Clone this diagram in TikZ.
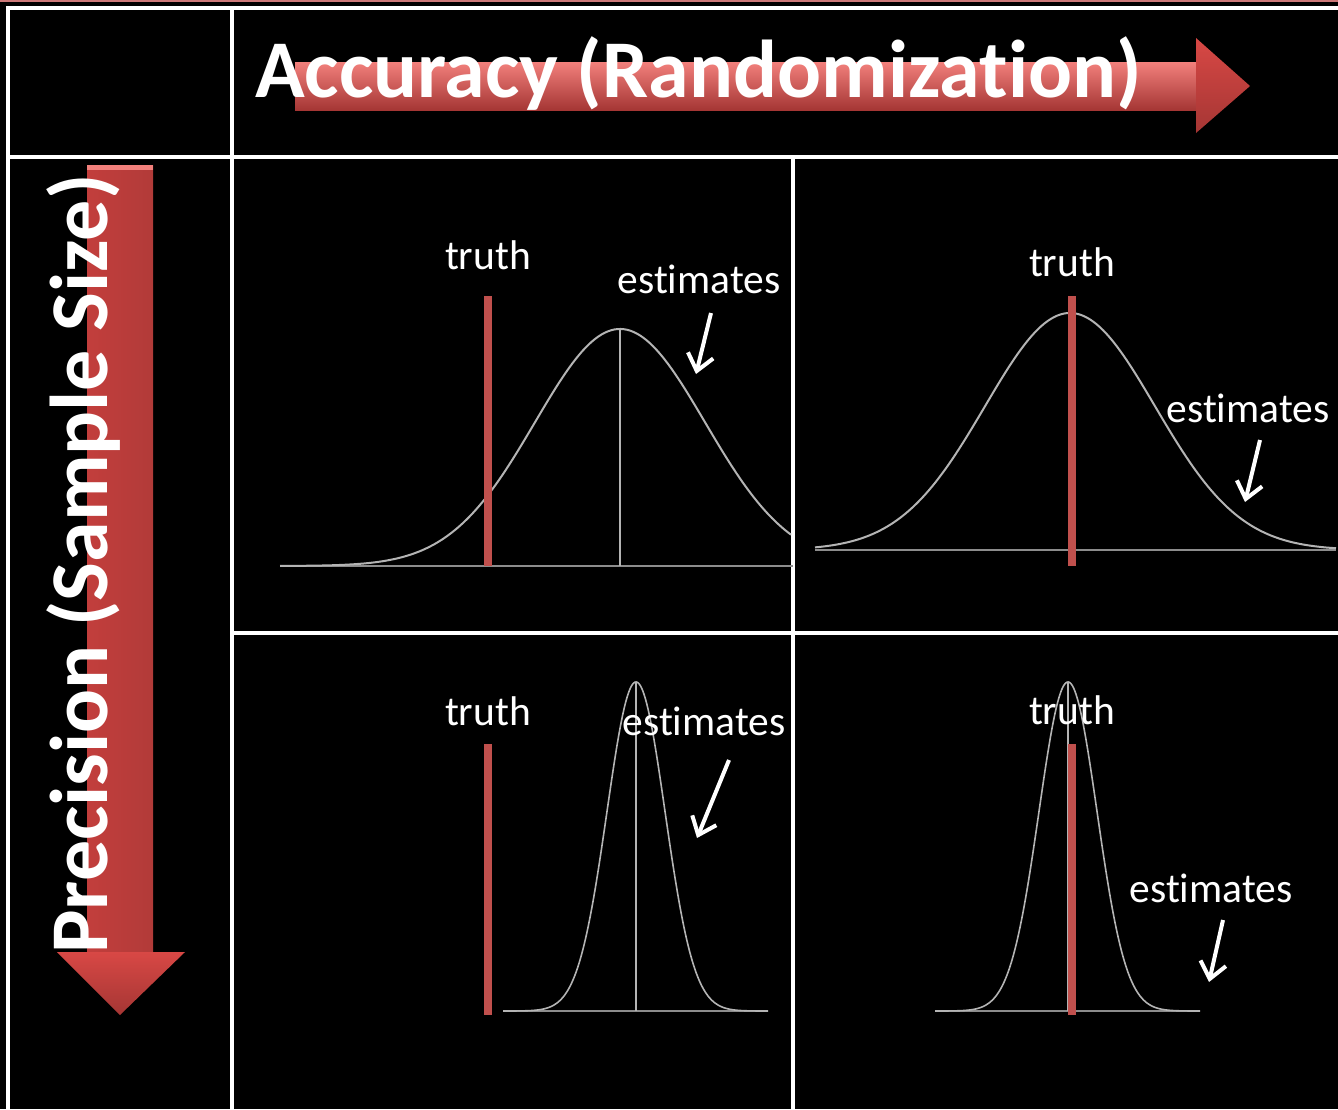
\documentclass[tikz,border=0pt]{standalone}
\usepackage{fontspec}
\setmainfont[Ligatures=NoCommon,RawFeature={-liga;-clig;-dlig}]{Carlito}
\usetikzlibrary{arrows.meta}
\definecolor{truthred}{HTML}{C0504D}
\definecolor{arrlight}{HTML}{F2807C}
\definecolor{arrmid}{HTML}{D84845}
\definecolor{arrdark}{HTML}{A53634}
\definecolor{shaftL}{HTML}{C23E3C}
\definecolor{shaftM}{HTML}{DC4B47}
\definecolor{shaftR}{HTML}{B23B39}
\definecolor{curvegrey}{HTML}{B4B4B4}
\definecolor{basegrey}{HTML}{8C8C8C}
\definecolor{topline}{HTML}{CC7777}
\begin{document}
\begin{tikzpicture}[x=1pt,y=-1pt,
  gridline/.style={draw=white,line width=4pt},
  truthbar/.style={draw=truthred,line width=8pt},
  curveline/.style={draw=curvegrey,line width=2pt},
  baseline/.style={draw=basegrey,line width=2pt},
  lbl/.style={text=white,font=\fontsize{41.5pt}{48pt}\selectfont,inner sep=0pt},
  axislbl/.style={text=white,font=\bfseries\fontsize{82pt}{96pt}\selectfont,inner sep=0pt},
  pointer/.style={draw=white,line width=4pt,-{Straight Barb[length=16pt,width=26pt]}}
]
\useasboundingbox (0,0) rectangle (1338,1109);
\fill[black] (0,0) rectangle (1338,1109);
\draw[topline,line width=2pt] (0,1) -- (1338,1);

% grid
\draw[gridline] (8,8) -- (8,1109);
\draw[gridline] (6,8) -- (1338,8);
\draw[gridline] (232,8) -- (232,1109);
\draw[gridline] (6,157) -- (1338,157);
\draw[gridline] (793,157) -- (793,1109);
\draw[gridline] (232,633) -- (1338,633);

% horizontal red arrow
\shade[top color=arrlight,middle color=arrmid,bottom color=arrdark] (295,62) rectangle (1200,110);
\shade[top color=arrmid,bottom color=arrdark] (1196,38) -- (1250,86) -- (1196,133) -- cycle;
\node[axislbl,anchor=base west] (acc) at (255,97) {Accuracy (Randomization)};

% vertical red arrow
\shade[left color=shaftL,middle color=shaftM,right color=shaftR] (87,165) rectangle (153,954);
\fill[arrlight] (87,165) rectangle (153,170);
\shade[top color=arrmid,bottom color=arrdark] (57,952) -- (185,952) -- (120,1015) -- cycle;
\node[axislbl,rotate=90,anchor=base west] (prec) at (107,954) {Precision (Sample Size)};

% ---------- panel 1 (top left)
\draw[baseline] (280,566) -- (793,566);
\draw[curveline] plot[domain=280:791,samples=160] (\x,{566-237*exp(-0.5*((\x-620)/85)^2)});
\draw[curveline] (620,329) -- (620,566);
\draw[truthbar] (488,296) -- (488,566);
\node[lbl,anchor=base] (t1) at (488,269) {truth};
\node[lbl,anchor=base] (e1) at (699,293) {estimates};
\coordinate (a1s) at (711,313); \coordinate (a1e) at (696,374);
\draw[pointer] (a1s) -- (a1e);

% ---------- panel 2 (top right)
\draw[baseline] (815,550) -- (1336,550);
\draw[curveline] plot[domain=815:1336,samples=160] (\x,{550-237*exp(-0.5*((\x-1070)/85)^2)});
\draw[truthbar] (1072,296) -- (1072,566);
\node[lbl,anchor=base] (t2) at (1072,276) {truth};
\node[lbl,anchor=base] (e2) at (1248,422) {estimates};
\coordinate (a2s) at (1260,440); \coordinate (a2e) at (1245,502);
\draw[pointer] (a2s) -- (a2e);

% ---------- panel 3 (bottom left)
\draw[baseline] (503,1011) -- (768,1011);
\draw[curveline,line width=1.6pt] plot[domain=503:768,samples=200] (\x,{1011-329*exp(-0.5*((\x-636)/29)^2)});
\draw[curveline,line width=1.6pt] (636,682) -- (636,1011);
\draw[truthbar] (488,744) -- (488,1015);
\node[lbl,anchor=base] (t3) at (488,725) {truth};
\node[lbl,anchor=base] (e3) at (704,735) {estimates};
\coordinate (a3s) at (729,760); \coordinate (a3e) at (697,838);
\draw[pointer] (a3s) -- (a3e);

% ---------- panel 4 (bottom right)
\draw[baseline] (935,1011) -- (1200,1011);
\draw[curveline,line width=1.6pt] plot[domain=935:1200,samples=200] (\x,{1011-329*exp(-0.5*((\x-1068)/29)^2)});
\draw[curveline,line width=1.6pt] (1068,682) -- (1068,1011);
\draw[truthbar] (1072,744) -- (1072,1015);
\node[lbl,anchor=base] (t4) at (1072,724) {truth};
\node[lbl,anchor=base] (e4) at (1211,902) {estimates};
\coordinate (a4s) at (1223,920); \coordinate (a4e) at (1209,982);
\draw[pointer] (a4s) -- (a4e);
\end{tikzpicture}
\end{document}
